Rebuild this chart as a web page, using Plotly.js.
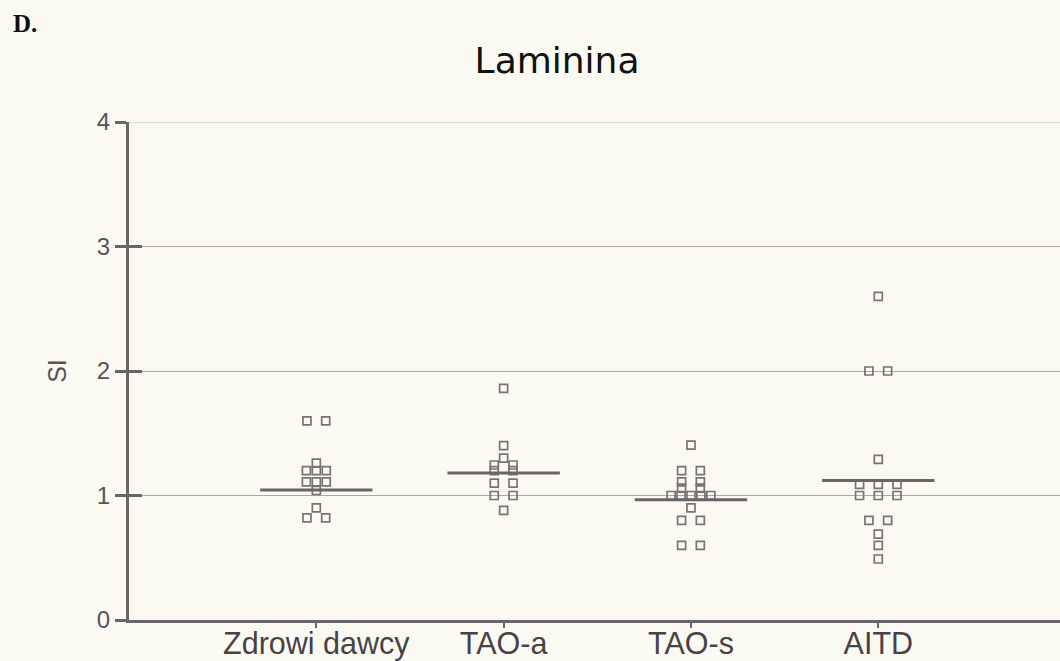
<!DOCTYPE html>
<html>
<head>
<meta charset="utf-8">
<script src="https://cdn.plot.ly/plotly-3.0.1.min.js"></script>
<style>
  html, body { margin: 0; padding: 0; background: #fafaf3; }
  #chart { width: 1060px; height: 661px; }
</style>
</head>
<body>
<div id="chart"></div>
<script>
// ---- data ----
const categories = ["Zdrowi dawcy", "TAO-a", "TAO-s", "AITD"];
const zdrowiDawcy = [1.6, 1.6, 1.26, 1.2, 1.2, 1.2, 1.11, 1.11, 1.11, 1.04, 0.9, 0.82, 0.82];
const taoA = [1.86, 1.4, 1.3, 1.245, 1.245, 1.2, 1.2, 1.1, 1.1, 1.0, 1.0, 0.88];
const taoS = [1.405, 1.2, 1.2, 1.11, 1.11, 1.06, 1.06, 1.0, 1.0, 1.0, 1.0, 1.0, 0.9, 0.8, 0.8, 0.6, 0.6];
const aitd = [2.6, 2.0, 2.0, 1.29, 1.09, 1.09, 1.09, 1.0, 1.0, 1.0, 0.8, 0.8, 0.69, 0.6, 0.49];
const medians = [1.044, 1.18, 0.965, 1.12];
const yTicks = [0, 1, 2, 3, 4];

// ---- styling ----
const groups = [zdrowiDawcy, taoA, taoS, aitd];
const pairStep = 0.1;                       // spacing when two points share a value
const denseStep = [0.053, 0.1, 0.053, 0.1]; // spacing for rows of 3+ points
const medianHalf = 0.3;
const markColor = "#7a7276";
const axisColor = "#6b6468";
const textColor = "#484245";

// spread equal values side by side around the category position
const xs = [], ys = [];
groups.forEach((vals, gi) => {
  const counts = {};
  vals.forEach(v => { counts[v] = (counts[v] || 0) + 1; });
  const seen = {};
  vals.forEach(v => {
    const n = counts[v];
    const k = seen[v] || 0;
    seen[v] = k + 1;
    const step = n <= 2 ? pairStep : denseStep[gi];
    xs.push(gi + 1 + (k - (n - 1) / 2) * step);
    ys.push(v);
  });
});

const mx = [], my = [];
medians.forEach((m, i) => {
  mx.push(i + 1 - medianHalf, i + 1 + medianHalf, null);
  my.push(m, m, null);
});

const yRange = [0, 4];
const yTop = yTicks[yTicks.length - 1];

const traces = [
  {
    x: mx, y: my, xaxis: "x", yaxis: "y2",
    mode: "lines", type: "scatter", hoverinfo: "skip",
    line: { color: axisColor, width: 3 }
  },
  {
    x: xs, y: ys, mode: "markers", type: "scatter",
    marker: { symbol: "square-open", size: 8, color: markColor, line: { width: 1.7, color: markColor } }
  }
];

const layout = {
  width: 1060, height: 661,
  paper_bgcolor: "#fafaf3", plot_bgcolor: "#fafaf3",
  margin: { l: 129, r: 0, t: 122, b: 41 },
  showlegend: false,
  title: {
    text: "Laminina",
    font: { family: "DejaVu Sans", size: 36, color: "#111111" },
    x: 0.5255, xanchor: "center", xref: "container",
    y: 0.908, yanchor: "middle", yref: "container"
  },
  xaxis: {
    range: [0, 4.97], fixedrange: true,
    tickmode: "array", tickvals: [1, 2, 3, 4], ticktext: categories,
    ticks: "outside", ticklen: 5, tickwidth: 2, tickcolor: axisColor,
    ticklabelstandoff: -11,
    showline: true, linecolor: axisColor, linewidth: 3,
    showgrid: false, zeroline: false, automargin: false,
    tickfont: { family: "Liberation Sans, Arial, sans-serif", size: 30.5, color: textColor }
  },
  yaxis: {
    range: yRange, fixedrange: true,
    tickmode: "array", tickvals: yTicks,
    ticks: "outside", ticklen: 11, tickwidth: 3, tickcolor: axisColor,
    ticklabelstandoff: 0,
    showline: true, linecolor: axisColor, linewidth: 3,
    showgrid: true, gridcolor: "#aea7aa", gridwidth: 1,
    zeroline: false, automargin: false,
    tickfont: { family: "Liberation Sans, Arial, sans-serif", size: 24, color: "#5a5256" },
    title: { text: "SI", standoff: 24, font: { family: "Liberation Sans, Arial, sans-serif", size: 25, color: "#5a5256" } }
  },
  yaxis2: {
    overlaying: "y", side: "left", range: yRange, fixedrange: true,
    tickmode: "array", tickvals: yTicks,
    ticks: "inside", ticklen: 13, tickwidth: 3, tickcolor: axisColor,
    showticklabels: false, showgrid: false, zeroline: false, showline: false
  },
  shapes: [
    {
      type: "line", xref: "paper", yref: "y", x0: 0, x1: 1, y0: yTop, y1: yTop,
      line: { color: "#c4bec0", width: 1 }, layer: "below"
    }
  ],
  annotations: [
    {
      text: "<b>D.</b>", xref: "paper", yref: "paper",
      x: -0.127, y: 1.197, xanchor: "left", yanchor: "middle", showarrow: false,
      font: { family: "Liberation Serif, Times New Roman, serif", size: 25, color: "#111111" }
    }
  ]
};

Plotly.newPlot("chart", traces, layout, { displayModeBar: false, staticPlot: true });
</script>
</body>
</html>
